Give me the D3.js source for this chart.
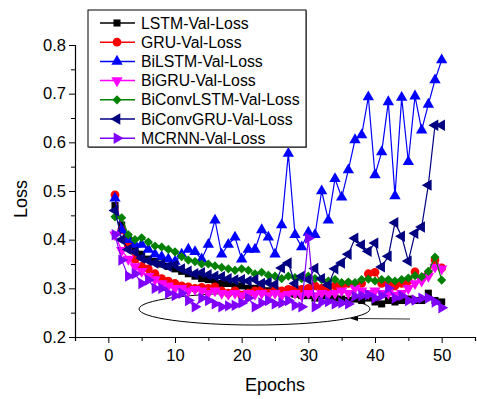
<!DOCTYPE html>
<html>
<head>
<meta charset="utf-8">
<script src="https://cdn.jsdelivr.net/npm/d3@7"></script>
<style>
  body { margin: 0; background: #fff; }
  svg { font-family: "Liberation Sans", Arial, sans-serif; }
</style>
</head>
<body>
<div id="chart"></div>
<script>
// epochs 1..50
var epochs = d3.range(1, 51);

var lstm = [0.47,0.43,0.40,0.385,0.37,0.36,0.355,0.35,0.345,0.34,0.335,0.33,0.325,0.32,0.318,0.315,0.31,0.31,0.305,0.305,
  0.30,0.30,0.298,0.295,0.295,0.29,0.29,0.288,0.285,0.285,0.28,0.285,0.28,0.28,0.278,0.275,0.278,0.275,0.28,0.272,
  0.268,0.275,0.272,0.275,0.278,0.275,0.275,0.29,0.275,0.272];
var gru = [0.492,0.42,0.387,0.36,0.345,0.34,0.33,0.32,0.315,0.31,0.305,0.303,0.30,0.302,0.30,0.303,0.295,0.29,0.295,0.286,
  0.29,0.295,0.297,0.29,0.298,0.295,0.298,0.30,0.298,0.30,0.305,0.30,0.303,0.305,0.30,0.31,0.305,0.31,0.33,0.333,
  0.31,0.31,0.305,0.31,0.315,0.334,0.32,0.33,0.358,0.342];
var bilstm = [0.485,0.42,0.40,0.39,0.39,0.38,0.37,0.365,0.36,0.355,0.37,0.38,0.375,0.36,0.39,0.44,0.37,0.39,0.405,0.36,
  0.38,0.38,0.42,0.405,0.37,0.43,0.577,0.41,0.385,0.415,0.41,0.50,0.44,0.525,0.487,0.543,0.605,0.615,0.693,0.533,
  0.58,0.683,0.49,0.692,0.56,0.695,0.625,0.678,0.728,0.769];
var bigru = [0.41,0.378,0.36,0.345,0.335,0.325,0.318,0.31,0.305,0.30,0.30,0.295,0.298,0.295,0.29,0.295,0.29,0.288,0.29,0.285,
  0.29,0.288,0.29,0.285,0.29,0.285,0.288,0.29,0.285,0.29,0.285,0.29,0.288,0.29,0.295,0.29,0.30,0.295,0.29,0.295,
  0.29,0.29,0.286,0.29,0.30,0.31,0.315,0.325,0.344,0.34];
var biconvlstm = [0.447,0.445,0.41,0.40,0.404,0.395,0.387,0.385,0.38,0.375,0.365,0.358,0.355,0.35,0.35,0.346,0.343,0.34,0.337,0.34,
  0.337,0.33,0.333,0.327,0.325,0.32,0.325,0.322,0.32,0.325,0.32,0.318,0.315,0.318,0.312,0.313,0.312,0.318,0.319,0.315,
  0.318,0.318,0.315,0.318,0.321,0.326,0.324,0.335,0.364,0.317];
var biconvgru = [0.46,0.40,0.38,0.375,0.362,0.357,0.352,0.35,0.345,0.348,0.34,0.335,0.33,0.332,0.328,0.325,0.324,0.32,0.317,0.318,
  0.315,0.318,0.31,0.312,0.308,0.342,0.352,0.31,0.325,0.318,0.341,0.32,0.307,0.34,0.352,0.37,0.403,0.389,0.376,0.393,
  0.344,0.366,0.435,0.407,0.356,0.413,0.426,0.512,0.635,0.635];
var mcrnn = [0.41,0.358,0.325,0.33,0.31,0.317,0.30,0.30,0.29,0.285,0.29,0.275,0.262,0.28,0.275,0.268,0.262,0.264,0.265,0.27,
  0.28,0.262,0.27,0.275,0.268,0.27,0.275,0.265,0.262,0.403,0.262,0.272,0.273,0.268,0.27,0.268,0.284,0.285,0.287,0.28,
  0.285,0.30,0.28,0.285,0.275,0.276,0.28,0.28,0.272,0.26];

var seriesNames = ["LSTM-Val-Loss","GRU-Val-Loss","BiLSTM-Val-Loss","BiGRU-Val-Loss","BiConvLSTM-Val-Loss","BiConvGRU-Val-Loss","MCRNN-Val-Loss"];
var seriesValues = [lstm, gru, bilstm, bigru, biconvlstm, biconvgru, mcrnn];
var seriesColors = ["#000000","#ff0000","#0000ff","#ff00ff","#008000","#000080","#8000ff"];
var xTicks = [0,10,20,30,40,50];
var yTicks = [0.2,0.3,0.4,0.5,0.6,0.7,0.8];

var W = 477, H = 399;
var svg = d3.select("#chart").append("svg").attr("width", W).attr("height", H);

var x = d3.scaleLinear().domain([-5, 55]).range([75, 475]);
var y = d3.scaleLinear().domain([0.2, 0.8]).range([337, 45]);

// marker shapes: [symbol type, size, rotation]
var shapes = [
  [d3.symbolSquare, 50, 0],
  [d3.symbolCircle, 60, 0],
  [d3.symbolTriangle, 56, 0],
  [d3.symbolTriangle, 56, 180],
  [d3.symbolSquare, 42, 45],
  [d3.symbolTriangle, 56, -90],
  [d3.symbolTriangle, 56, 90]
];

// axes
var xAxis = d3.axisBottom(x).tickValues(d3.range(-5, 56, 5)).tickSize(4)
  .tickFormat(function (d) { return xTicks.indexOf(d) >= 0 ? d : ""; });
var gx = svg.append("g").attr("transform", "translate(0,337)").call(xAxis);
gx.selectAll(".tick line").attr("y2", function (d) { return xTicks.indexOf(d) >= 0 ? 6 : 4; });

var yAxis = d3.axisLeft(y).tickValues(d3.range(0.2, 0.81, 0.05)).tickSize(4)
  .tickFormat(function (d) { return Math.abs(d * 10 - Math.round(d * 10)) < 1e-6 ? d3.format(".1f")(d) : ""; });
var gy = svg.append("g").attr("transform", "translate(75,0)").call(yAxis);
gy.selectAll(".tick line").attr("x2", function (d) { return Math.abs(d * 10 - Math.round(d * 10)) < 1e-6 ? -6 : -4; });

[gx, gy].forEach(function (g) {
  g.select(".domain").attr("stroke", "#000").attr("stroke-width", 1.2);
  g.selectAll(".tick line").attr("stroke", "#000");
  g.selectAll(".tick text").attr("font-size", 16.5).attr("fill", "#000")
    .attr("font-family", "Liberation Sans, Arial, sans-serif");
});
gx.selectAll(".tick text").attr("dy", "1.05em");
gy.selectAll(".tick text").attr("x", -9);

svg.append("text").attr("x", 275).attr("y", 391).attr("text-anchor", "middle")
  .attr("font-size", 18).text("Epochs");
svg.append("text").attr("transform", "translate(27,199) rotate(-90)").attr("text-anchor", "middle")
  .attr("font-size", 18).text("Loss");

// annotation ellipse + arrow
svg.append("ellipse").attr("cx", 254.5).attr("cy", 309).attr("rx", 115.5).attr("ry", 16)
  .attr("fill", "none").attr("stroke", "#000").attr("stroke-width", 1);
svg.append("line").attr("x1", 410).attr("y1", 319).attr("x2", 356).attr("y2", 318.5)
  .attr("stroke", "#333").attr("stroke-width", 1);
svg.append("path").attr("d", "M350,318.5 L358,316 L358,321 Z").attr("fill", "#000");

// series
var line = d3.line().x(function (d, i) { return x(epochs[i]); }).y(function (d) { return y(d); });
seriesValues.forEach(function (vals, k) {
  var g = svg.append("g");
  g.append("path").datum(vals).attr("d", line).attr("fill", "none")
    .attr("stroke", seriesColors[k]).attr("stroke-width", 1.2);
  var sym = d3.symbol().type(shapes[k][0]).size(shapes[k][1]);
  g.selectAll("path.m").data(vals).enter().append("path").attr("class", "m")
    .attr("d", sym)
    .attr("transform", function (d, i) { return "translate(" + x(epochs[i]) + "," + y(d) + ") rotate(" + shapes[k][2] + ")"; })
    .attr("fill", seriesColors[k]);
});

// legend
var lg = svg.append("g");
lg.append("rect").attr("x", 89).attr("y", 11).attr("width", 218).attr("height", 137).attr("fill", "#888");
lg.append("rect").attr("x", 88).attr("y", 10).attr("width", 218).attr("height", 137)
  .attr("fill", "#fff").attr("stroke", "#000").attr("stroke-width", 1);
seriesNames.forEach(function (name, k) {
  var yy = 23 + k * 19.2;
  lg.append("line").attr("x1", 100).attr("x2", 135).attr("y1", yy).attr("y2", yy)
    .attr("stroke", seriesColors[k]).attr("stroke-width", 1.5);
  lg.append("path").attr("d", d3.symbol().type(shapes[k][0]).size(shapes[k][1]))
    .attr("transform", "translate(117," + yy + ") rotate(" + shapes[k][2] + ")")
    .attr("fill", seriesColors[k]);
  lg.append("text").attr("x", 141).attr("y", yy + 5.5).attr("font-size", 15.8).text(name);
});
</script>
</body>
</html>
